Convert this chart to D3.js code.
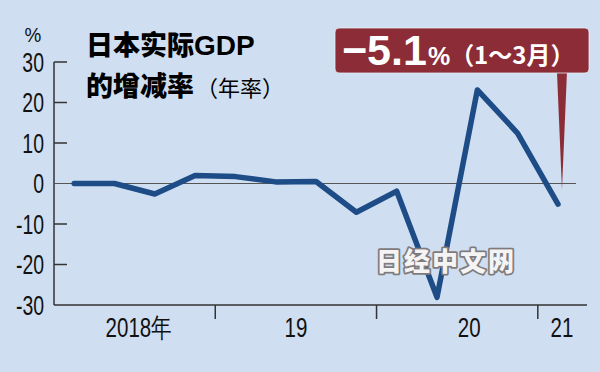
<!DOCTYPE html>
<html>
<head>
<meta charset="utf-8">
<script src="https://cdn.jsdelivr.net/npm/d3@7"></script>
<style>
  body { margin: 0; background: #cfdff1; }
  svg { display: block; }
</style>
</head>
<body>
<div id="chart"></div>
<script>
// Japan real GDP, annualized q/q change (%), 2018 Q1 .. 2021 Q1
const quarters = ["18Q1", "18Q2", "18Q3", "18Q4", "19Q1", "19Q2", "19Q3", "19Q4",
                  "20Q1", "20Q2", "20Q3", "20Q4", "21Q1"];
const growth = [0.0, 0.0, -2.6, 2.0, 1.7, 0.4, 0.5, -7.1, -1.9, -28.1, 23.1, 12.4, -5.1];
const yTicks = [30, 20, 10, 0, -10, -20, -30];
const yearLabels = ["2018年", "19", "20", "21"];
const yearLabelAt = [1.6, 5.5, 9.8, 12.1]; // quarter index where each year label sits
const yearBreaks = [3.5, 7.5, 11.5];

const width = 600, height = 372;
const svg = d3.select("#chart").append("svg")
    .attr("width", width)
    .attr("height", height);

svg.append("rect").attr("width", width).attr("height", height).attr("fill", "#cfdff1");

const x = d3.scaleLinear().domain([-0.5, 12.72]).range([54, 587]);
const y = d3.scaleLinear().domain([-30, 30]).range([305, 62]);

const numFont = "'Liberation Sans', Arial, sans-serif";
const cjkFont = "'Noto Sans CJK JP', 'Noto Sans CJK SC', sans-serif";

// y axis line + inward ticks
svg.append("line")
    .attr("x1", 54).attr("x2", 54)
    .attr("y1", y(30)).attr("y2", y(-30))
    .attr("stroke", "#333").attr("stroke-width", 1.5);

svg.selectAll(".ytick")
    .data(yTicks.filter(d => d !== 0 && d !== -30))
    .enter().append("line")
    .attr("x1", 54).attr("x2", 67)
    .attr("y1", d => y(d)).attr("y2", d => y(d))
    .attr("stroke", "#333").attr("stroke-width", 1.5);

// narrow look: squeeze a normal sans horizontally
svg.selectAll(".ylabel")
    .data(yTicks)
    .enter().append("text")
    .attr("transform", d => `translate(44,${y(d)}) scale(0.72,1)`)
    .attr("dy", "0.36em")
    .attr("text-anchor", "end")
    .style("font-family", numFont)
    .style("font-size", "27px")
    .attr("fill", "#111")
    .text(d => d);

svg.append("text")
    .attr("transform", "translate(33,42) scale(0.9,1)")
    .attr("text-anchor", "middle")
    .style("font-family", numFont)
    .style("font-size", "21px")
    .attr("fill", "#111")
    .text("%");

// x axis
svg.append("line")
    .attr("x1", 54).attr("x2", 587)
    .attr("y1", y(-30)).attr("y2", y(-30))
    .attr("stroke", "#333").attr("stroke-width", 1.5);

svg.selectAll(".xtick")
    .data(yearBreaks)
    .enter().append("line")
    .attr("x1", d => x(d)).attr("x2", d => x(d))
    .attr("y1", y(-30)).attr("y2", y(-30) + 14)
    .attr("stroke", "#333").attr("stroke-width", 1.5);

svg.selectAll(".xlabel")
    .data(yearLabels)
    .enter().append("text")
    .attr("transform", (d, i) => `translate(${x(yearLabelAt[i])},337) scale(0.76,1)`)
    .attr("text-anchor", "middle")
    .style("font-family", numFont)
    .style("font-size", "27px")
    .attr("fill", "#111")
    .text(d => d);

// zero line
svg.append("line")
    .attr("x1", 54).attr("x2", 576)
    .attr("y1", y(0)).attr("y2", y(0))
    .attr("stroke", "#555").attr("stroke-width", 1.2);

// title
const title = svg.append("g")
    .style("font-family", cjkFont)
    .attr("fill", "#000");
title.append("text")
    .attr("x", 86).attr("y", 55)
    .style("font-size", "27px").style("font-weight", 900)
    .text("日本实际")
    .append("tspan")
    .style("font-family", "'Liberation Sans Narrow', 'Liberation Sans', sans-serif")
    .style("font-size", "28px").style("font-weight", 700)
    .text("GDP");
const t2 = title.append("text")
    .attr("x", 86).attr("y", 96)
    .style("font-size", "27px").style("font-weight", 900);
t2.append("tspan").text("的增减率");
t2.append("tspan")
    .attr("dx", 2)
    .style("font-size", "22px").style("font-weight", 400)
    .text("（年率）");

// data line
const line = d3.line()
    .x((d, i) => x(i))
    .y(d => y(d));

svg.append("path")
    .datum(growth)
    .attr("d", line)
    .attr("fill", "none")
    .attr("stroke", "#1d4c86")
    .attr("stroke-width", 5.5)
    .attr("stroke-linejoin", "round")
    .attr("stroke-linecap", "round");

// watermark (sits over the line)
svg.append("text")
    .attr("x", 446).attr("y", 271)
    .attr("text-anchor", "middle")
    .style("font-family", cjkFont)
    .style("font-size", "26px").style("font-weight", 900)
    .attr("letter-spacing", "2px")
    .attr("fill", "#f4f4f4")
    .attr("stroke", "#7f7b7d")
    .attr("stroke-width", 3.5)
    .attr("stroke-linejoin", "round")
    .attr("paint-order", "stroke")
    .text("日经中文网");

// callout
const last = growth.length - 1;
const tipX = x(last) + 4;
const callout = svg.append("g");
callout.append("path")
    .attr("d", `M${tipX - 5},72 L${tipX},${y(0) + 6} L${tipX + 5},72 Z`)
    .attr("fill", "#8b2c36");
callout.append("rect")
    .attr("x", 335).attr("y", 28)
    .attr("width", 254).attr("height", 45)
    .attr("rx", 4)
    .attr("fill", "#8b2c36")
    .attr("stroke", "#e4ebf4").attr("stroke-width", 0.8);

const ct = callout.append("text")
    .attr("x", 342).attr("y", 65)
    .attr("fill", "#fff");
ct.append("tspan")
    .style("font-family", "'Liberation Sans', Arial, sans-serif")
    .style("font-size", "43px").style("font-weight", 700)
    .text("−" + Math.abs(growth[last]).toFixed(1));
ct.append("tspan")
    .attr("dx", 1)
    .style("font-family", "'Liberation Sans', Arial, sans-serif")
    .style("font-size", "25px").style("font-weight", 700)
    .text("%");
ct.append("tspan")
    .style("font-family", cjkFont)
    .style("font-size", "24px").style("font-weight", 700)
    .attr("dy", -1)
    .text("（1～3月）");
</script>
</body>
</html>
